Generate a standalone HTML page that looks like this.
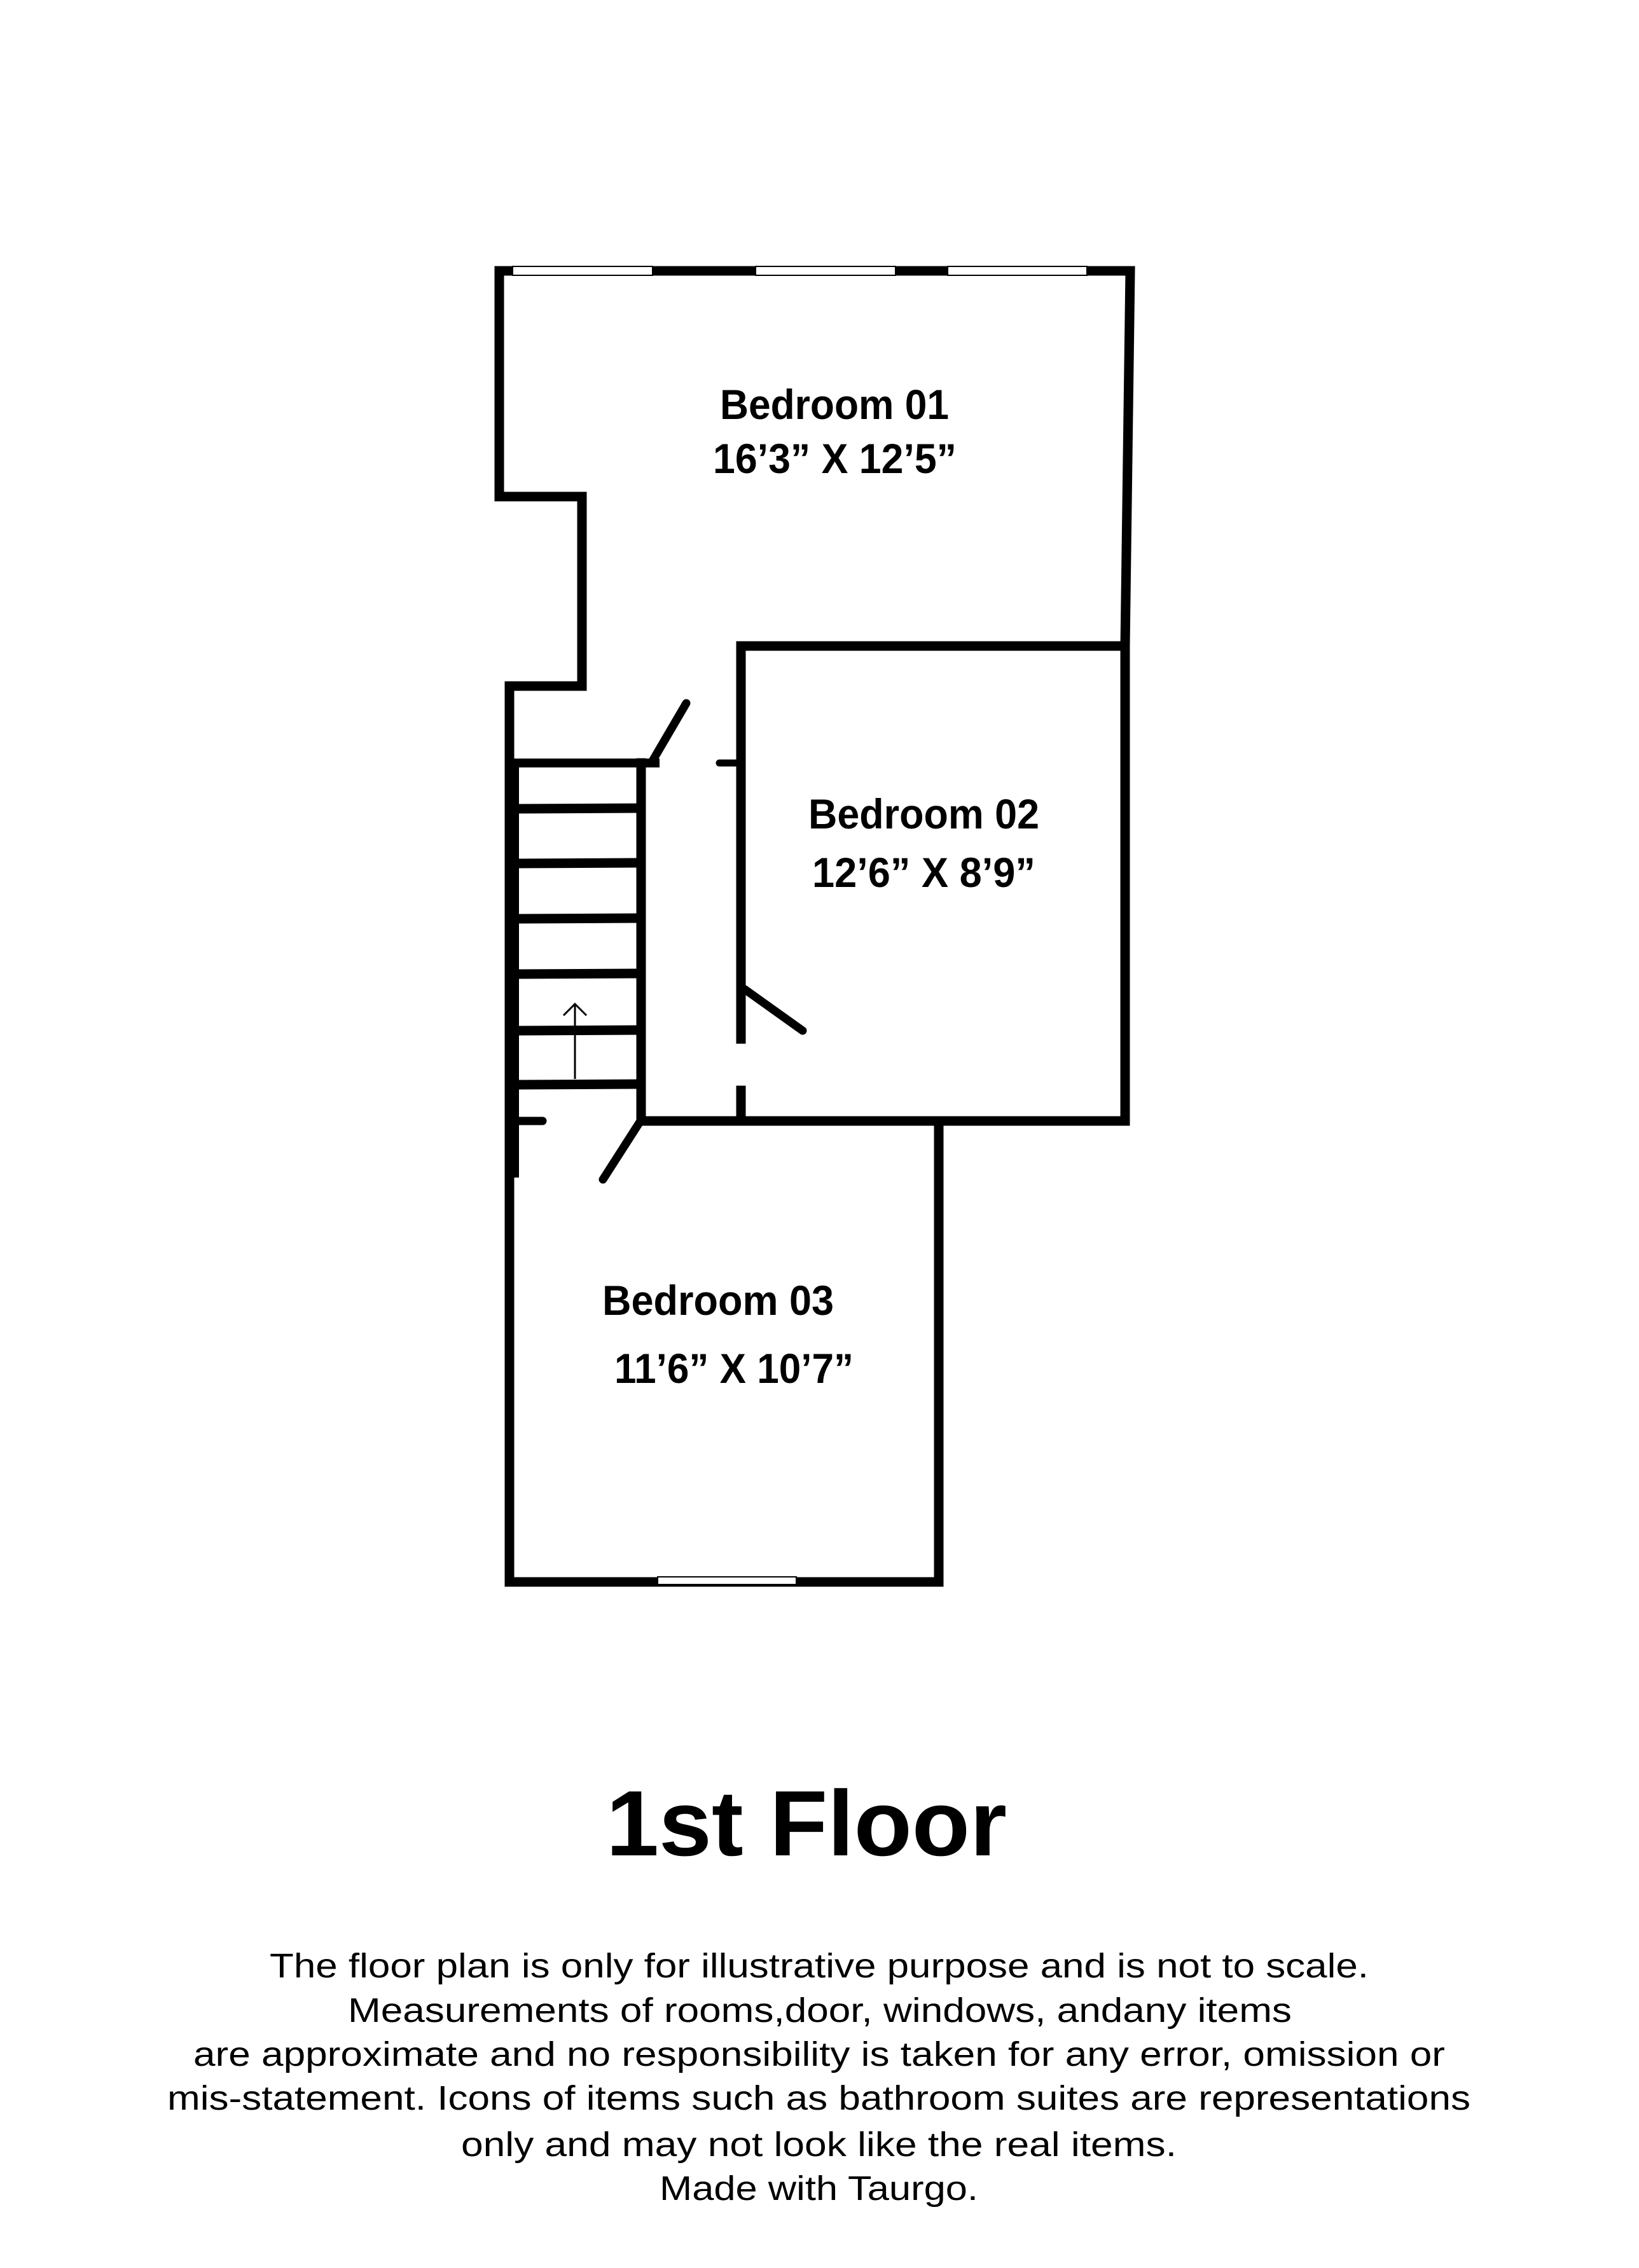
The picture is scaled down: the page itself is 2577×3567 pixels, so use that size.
<!DOCTYPE html>
<html><head><meta charset="utf-8"><style>
html,body{margin:0;padding:0;background:#fff;}
svg{display:block;}
text{font-family:"Liberation Sans",Arial,sans-serif;fill:#000;}
</style></head><body>
<svg width="2577" height="3567" viewBox="0 0 2577 3567" xmlns="http://www.w3.org/2000/svg">
<rect width="2577" height="3567" fill="#fff"/>
<g stroke="#000" fill="none" stroke-width="15" stroke-linecap="square" stroke-linejoin="miter">
  <polyline points="785,781 785,426 1777,426 1769,1016 1769,1763"/>
  <polyline points="785,781 915,781 915,1079 801,1079 801,2488 1476,2488 1476,1763"/>
  <polyline points="1769,1016 1165,1016 1165,1634"/>
  <line x1="1165" y1="1715" x2="1165" y2="1763"/>
  <line x1="1008" y1="1763" x2="1769" y2="1763"/>
  <line x1="807" y1="1200" x2="1030" y2="1200" stroke-width="14"/>
  <line x1="1008" y1="1200" x2="1008" y2="1763"/>
  <line x1="807" y1="1200" x2="807" y2="1852" stroke-width="18" stroke-linecap="butt"/>
  <g stroke-width="15" stroke-linecap="butt">
    <line x1="812" y1="1272" x2="1002" y2="1271"/>
    <line x1="812" y1="1358" x2="1002" y2="1357"/>
    <line x1="812" y1="1445" x2="1002" y2="1444"/>
    <line x1="812" y1="1532" x2="1002" y2="1531"/>
    <line x1="812" y1="1621" x2="1002" y2="1620"/>
    <line x1="812" y1="1706" x2="1002" y2="1705"/>
  </g>
  <line x1="812" y1="1763" x2="853" y2="1763" stroke-width="13" stroke-linecap="round"/>
</g>
<g stroke="#000" fill="none" stroke-width="3">
  <line x1="904" y1="1697" x2="904" y2="1580"/>
  <polyline points="886,1597 904,1579 922,1597"/>
</g>
<g stroke="#000" stroke-width="13" stroke-linecap="round" fill="none">
  <line x1="1024" y1="1200" x2="1079" y2="1106"/>
  <line x1="1131" y1="1200" x2="1160" y2="1200" stroke-width="11"/>
  <line x1="1171" y1="1556" x2="1262" y2="1621"/>
  <line x1="1007" y1="1763" x2="948" y2="1855"/>
</g>
<g fill="#fff" stroke="#000" stroke-width="2">
  <rect x="806" y="419" width="220" height="14"/>
  <rect x="1188" y="419" width="220" height="14"/>
  <rect x="1490" y="419" width="219" height="14"/>
  <rect x="1034" y="2480" width="218" height="12"/>
</g>
<g font-weight="bold" font-size="66">
  <text x="1132" y="659" textLength="360" lengthAdjust="spacingAndGlyphs">Bedroom 01</text>
  <text x="1121" y="744" textLength="383" lengthAdjust="spacingAndGlyphs">16’3” X 12’5”</text>
  <text x="1271" y="1303" textLength="363" lengthAdjust="spacingAndGlyphs">Bedroom 02</text>
  <text x="1277" y="1395" textLength="351" lengthAdjust="spacingAndGlyphs">12’6” X 8’9”</text>
  <text x="947" y="2068" textLength="364" lengthAdjust="spacingAndGlyphs">Bedroom 03</text>
  <text x="966" y="2175" textLength="376" lengthAdjust="spacingAndGlyphs">11’6” X 10’7”</text>
</g>
<text x="953" y="2918" font-weight="bold" font-size="146" textLength="630" lengthAdjust="spacingAndGlyphs">1st Floor</text>
<g font-size="54">
  <text x="424" y="3110" textLength="1728" lengthAdjust="spacingAndGlyphs">The floor plan is only for illustrative purpose and is not to scale.</text>
  <text x="547" y="3180" textLength="1484" lengthAdjust="spacingAndGlyphs">Measurements of rooms,door, windows, andany items</text>
  <text x="304" y="3249" textLength="1968" lengthAdjust="spacingAndGlyphs">are approximate and no responsibility is taken for any error, omission or</text>
  <text x="263" y="3318" textLength="2049" lengthAdjust="spacingAndGlyphs">mis-statement. Icons of items such as bathroom suites are representations</text>
  <text x="725" y="3391" textLength="1125" lengthAdjust="spacingAndGlyphs">only and may not look like the real items.</text>
  <text x="1037" y="3460" textLength="501" lengthAdjust="spacingAndGlyphs">Made with Taurgo.</text>
</g>
</svg>
</body></html>
